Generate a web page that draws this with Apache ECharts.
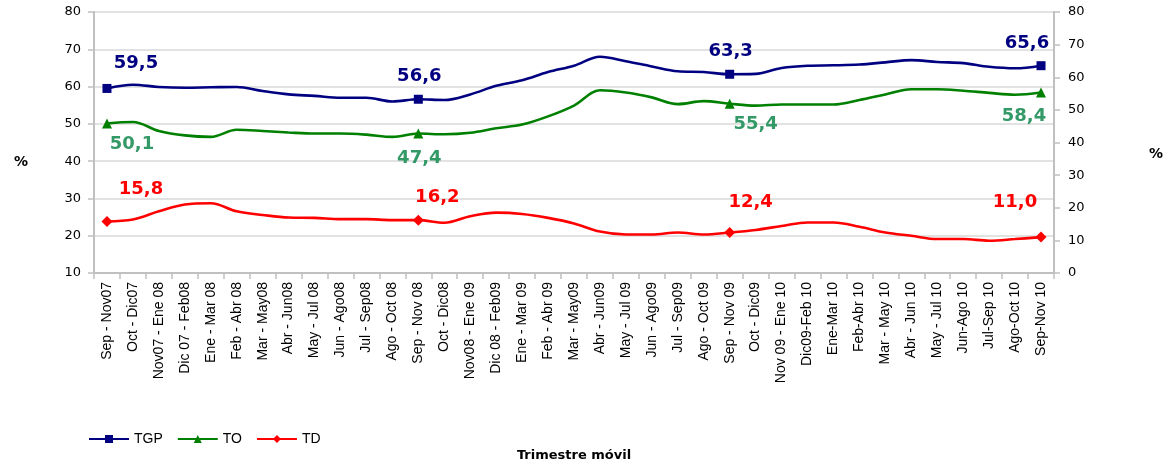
<!DOCTYPE html>
<html>
<head>
<meta charset="utf-8">
<script src="https://cdn.jsdelivr.net/npm/echarts@6/dist/echarts.min.js"></script>
<style>
  html, body { margin: 0; padding: 0; background: #ffffff; }
  #chart { width: 1171px; height: 467px; }
</style>
</head>
<body>
<div id="chart"></div>
<script>
// Rolling quarters (trimestre móvil)
const categories = [
  'Sep - Nov07', 'Oct - Dic07', 'Nov07 - Ene 08', 'Dic 07 - Feb08', 'Ene - Mar 08',
  'Feb - Abr 08', 'Mar - May08', 'Abr - Jun08', 'May - Jul 08', 'Jun - Ago08',
  'Jul - Sep08', 'Ago - Oct 08', 'Sep - Nov 08', 'Oct - Dic08', 'Nov08 - Ene 09',
  'Dic 08 - Feb09', 'Ene - Mar 09', 'Feb - Abr 09', 'Mar - May09', 'Abr - Jun09',
  'May - Jul 09', 'Jun - Ago09', 'Jul - Sep09', 'Ago - Oct 09', 'Sep - Nov 09',
  'Oct - Dic09', 'Nov 09 - Ene 10', 'Dic09-Feb 10', 'Ene-Mar 10', 'Feb-Abr 10',
  'Mar - May 10', 'Abr - Jun 10', 'May - Jul 10', 'Jun-Ago 10', 'Jul-Sep 10',
  'Ago-Oct 10', 'Sep-Nov 10'
];

// Tasa global de participación (left axis)
const tgp = [
  59.5, 60.5, 59.9, 59.7, 59.8, 59.9, 58.8, 57.9, 57.5, 57.0,
  57.0, 56.0, 56.6, 56.4, 57.9, 60.2, 61.7, 63.9, 65.6, 68.0,
  66.8, 65.4, 64.1, 63.9, 63.3, 63.4, 65.0, 65.6, 65.7, 65.9,
  66.5, 67.1, 66.6, 66.3, 65.3, 64.9, 65.6
];

// Tasa de ocupación (left axis)
const to = [
  50.1, 50.5, 48.1, 46.9, 46.5, 48.4, 48.1, 47.7, 47.4, 47.4,
  47.1, 46.5, 47.4, 47.2, 47.6, 48.8, 49.8, 52.0, 54.9, 59.0,
  58.4, 57.1, 55.3, 56.1, 55.4, 54.9, 55.2, 55.2, 55.2, 56.4,
  57.9, 59.3, 59.3, 58.9, 58.3, 57.8, 58.4
];

// Tasa de desempleo (right axis)
const td = [
  15.8, 16.4, 18.9, 21.0, 21.4, 18.9, 17.8, 17.0, 16.9, 16.5,
  16.5, 16.2, 16.2, 15.4, 17.4, 18.5, 18.1, 16.9, 15.2, 12.7,
  11.8, 11.8, 12.4, 11.8, 12.4, 13.2, 14.4, 15.5, 15.5, 14.2,
  12.4, 11.4, 10.4, 10.4, 9.9, 10.4, 11.0
];

// Points that carry a marker and a value label (same month each year)
const labeledPoints = [0, 12, 24, 36];

// Label placement around each marked point, in pixels
const labelOffsets = {
  TGP: { 0: [29, -25], 12: [1, -23], 24: [1, -23], 36: [-14, -22] },
  TO:  { 0: [25, 21],  12: [1, 25],  24: [26, 21], 36: [-17, 24] },
  TD:  { 0: [34, -32], 12: [19, -23], 24: [21, -30], 36: [-26, -35] }
};

const fmt = v => v.toFixed(1).replace('.', ',');
const sansFamily = "'Liberation Sans', Arial, sans-serif";

function buildData(values, name, labelColor) {
  return values.map((v, i) => {
    if (labeledPoints.indexOf(i) === -1) return v;
    return {
      value: v,
      label: {
        show: true,
        position: 'inside',
        offset: labelOffsets[name][i],
        formatter: () => fmt(v),
        color: labelColor,
        fontFamily: 'DejaVu Sans',
        fontWeight: 'bold',
        fontSize: 18
      }
    };
  });
}

function makeSeries(name, values, color, labelColor, symbol, size, axis) {
  return {
    name: name,
    type: 'line',
    yAxisIndex: axis,
    data: buildData(values, name, labelColor),
    smooth: 0.35,
    symbol: symbol,
    symbolSize: (val, p) => labeledPoints.indexOf(p.dataIndex) !== -1 ? size : 0,
    showAllSymbol: true,
    lineStyle: { color: color, width: 2.6 },
    itemStyle: { color: color },
    label: { show: false },
    emphasis: { disabled: true },
    animation: false
  };
}

const axisFont = { fontFamily: 'DejaVu Sans', fontSize: 13, color: '#000000' };
const gray = '#c0c0c0';

const chart = echarts.init(document.getElementById('chart'), null, { renderer: 'canvas' });

chart.setOption({
  backgroundColor: '#ffffff',
  animation: false,
  grid: { left: 94, right: 117, top: 12, bottom: 188, containLabel: false },
  legend: {
    left: 83,
    top: 427,
    itemWidth: 40,
    itemHeight: 10,
    itemGap: 14,
    textStyle: { fontFamily: sansFamily, fontSize: 14, color: '#000000' },
    data: ['TGP', 'TO', 'TD']
  },
  xAxis: {
    type: 'category',
    data: categories,
    boundaryGap: true,
    name: 'Trimestre móvil',
    nameLocation: 'middle',
    nameGap: 176,
    nameTextStyle: { fontFamily: 'DejaVu Sans', fontWeight: 'bold', fontSize: 13, color: '#000000' },
    axisLine: { lineStyle: { color: gray, width: 2 } },
    axisTick: { show: true, alignWithLabel: false, length: 6, lineStyle: { color: gray, width: 1.5 } },
    axisLabel: {
      interval: 0,
      rotate: 90,
      margin: 9,
      fontFamily: sansFamily,
      fontSize: 14,
      color: '#000000'
    },
    splitLine: { show: false }
  },
  yAxis: [
    {
      type: 'value',
      min: 10,
      max: 80,
      interval: 10,
      position: 'left',
      axisLine: { show: true, lineStyle: { color: gray, width: 2 } },
      axisTick: { show: true, length: 6, lineStyle: { color: gray, width: 1.5 } },
      axisLabel: Object.assign({ margin: 13 }, axisFont),
      splitLine: { show: true, lineStyle: { color: '#d9d9d9', width: 1.5 } }
    },
    {
      type: 'value',
      min: 0,
      max: 80,
      interval: 10,
      position: 'right',
      axisLine: { show: true, lineStyle: { color: gray, width: 2 } },
      axisTick: { show: true, length: 6, lineStyle: { color: gray, width: 1.5 } },
      axisLabel: Object.assign({ margin: 14 }, axisFont),
      splitLine: { show: false }
    }
  ],
  graphic: [
    {
      type: 'text', left: 14, top: 155,
      style: { text: '%', fontFamily: 'DejaVu Sans', fontWeight: 'bold', fontSize: 14, fill: '#000000' }
    },
    {
      type: 'text', left: 1149, top: 147,
      style: { text: '%', fontFamily: 'DejaVu Sans', fontWeight: 'bold', fontSize: 14, fill: '#000000' }
    }
  ],
  series: [
    makeSeries('TGP', tgp, '#000080', '#000080', 'rect', 9, 0),
    makeSeries('TO', to, '#008000', '#339966', 'triangle', 10, 0),
    makeSeries('TD', td, '#ff0000', '#ff0000', 'diamond', 11, 1)
  ]
});
</script>
</body>
</html>
